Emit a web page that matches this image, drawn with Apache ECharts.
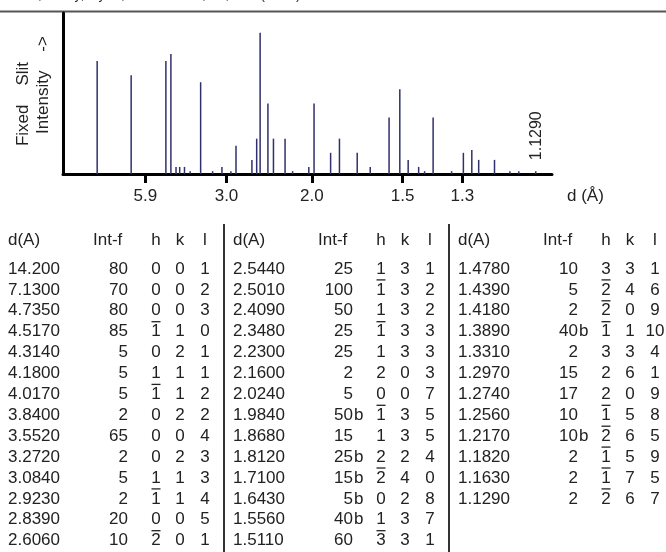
<!DOCTYPE html>
<html>
<head>
<meta charset="utf-8">
<script src="https://cdn.jsdelivr.net/npm/echarts@6/dist/echarts.min.js"></script>
<style>
  html, body { margin: 0; padding: 0; background: #fff; }
  #chart { width: 666px; height: 552px; }
</style>
</head>
<body>
<div id="chart"></div>
<script>
// Powder diffraction card: stick pattern on a 2-theta scale labelled in d, plus the d / I / hkl listing.
const LAMBDA = 1.5406; // Cu K-alpha1, Angstrom

const dSpacing = [
  14.200, 7.1300, 4.7350, 4.5170, 4.3140, 4.1800, 4.0170, 3.8400, 3.5520, 3.2720, 3.0840, 2.9230, 2.8390, 2.6060,
  2.5440, 2.5010, 2.4090, 2.3480, 2.2300, 2.1600, 2.0240, 1.9840, 1.8680, 1.8120, 1.7100, 1.6430, 1.5560, 1.5110,
  1.4780, 1.4390, 1.4180, 1.3890, 1.3310, 1.2970, 1.2740, 1.2560, 1.2170, 1.1820, 1.1630, 1.1290
];
const intensity = [
  80, 70, 80, 85, 5, 5, 5, 2, 65, 2, 5, 2, 20, 10,
  25, 100, 50, 25, 25, 2, 5, 50, 15, 25, 15, 5, 40, 60,
  10, 5, 2, 40, 2, 15, 17, 10, 10, 2, 2, 2
];
const broad = [
  '', '', '', '', '', '', '', '', '', '', '', '', '', '',
  '', '', '', '', '', '', '', 'b', '', 'b', 'b', 'b', 'b', '',
  '', '', '', 'b', '', '', '', '', 'b', '', '', ''
];
const hIdx = [
  0, 0, 0, -1, 0, 1, -1, 0, 0, 0, 1, -1, 0, -2,
  1, -1, 1, -1, 1, 2, 0, -1, 1, 2, -2, 0, 1, -3,
  3, -2, -2, -1, 3, 2, 2, -1, -2, -1, -1, -2
];
const kIdx = [
  0, 0, 0, 1, 2, 1, 1, 2, 0, 2, 1, 1, 0, 0,
  3, 3, 3, 3, 3, 0, 0, 3, 3, 2, 4, 2, 3, 3,
  3, 4, 0, 1, 3, 6, 0, 5, 6, 5, 7, 6
];
const lIdx = [
  1, 2, 3, 0, 1, 1, 2, 2, 4, 3, 3, 4, 5, 1,
  1, 2, 2, 3, 3, 3, 7, 5, 5, 4, 0, 8, 7, 1,
  1, 6, 9, 10, 4, 1, 9, 8, 5, 9, 5, 7
];
const tickD = [5.9, 3.0, 2.0, 1.5, 1.3];
const headers = ['d(A)', 'Int-f', 'h', 'k', 'l'];
const reference = 'Rich, Dalby, Ryan, Econ. Geol., 85, 783 (1990)';

function twoTheta(d) { return 2 * Math.asin(LAMBDA / (2 * d)) * 180 / Math.PI; }
function dFromTwoTheta(t) { return LAMBDA / (2 * Math.sin(t * Math.PI / 360)); }
function fmtD(d) { return d >= 10 ? d.toFixed(3) : d.toFixed(4); }

const FONT = "'Liberation Sans', Arial, sans-serif";
const TEXT = '#222';
const STICK = '#30306f';

const sticks = dSpacing.map((d, i) => [twoTheta(d), intensity[i]]);
const lastIdx = sticks.length - 1;

// ----- listing table (three blocks of 14 rows) -----
const graphics = [];
const ROWS = 14, BLOCK_W = 225, ROW0 = 269, ROW_H = 20.9, HEAD_Y = 240;
const col = { d: 8, intRight: 128, intHead: 93, h: 156, k: 180, l: 205 };
function txt(x, y, s, align) {
  graphics.push({ type: 'text', x: x, y: y, silent: true,
    style: { text: s, fill: TEXT, font: '17px ' + FONT, align: align || 'left', verticalAlign: 'middle' } });
}
for (let b = 0; b < 3; b++) {
  const ox = b * BLOCK_W;
  txt(ox + col.d, HEAD_Y, headers[0]);
  txt(ox + col.intHead, HEAD_Y, headers[1]);
  txt(ox + col.h, HEAD_Y, headers[2], 'center');
  txt(ox + col.k, HEAD_Y, headers[3], 'center');
  txt(ox + col.l, HEAD_Y, headers[4], 'center');
  for (let r = 0; r < ROWS; r++) {
    const i = b * ROWS + r;
    if (i >= dSpacing.length) break;
    const y = ROW0 + r * ROW_H;
    txt(ox + col.d, y, fmtD(dSpacing[i]));
    txt(ox + col.intRight, y, String(intensity[i]), 'right');
    if (broad[i]) txt(ox + col.intRight + 1, y, broad[i]);
    txt(ox + col.h, y, String(Math.abs(hIdx[i])), 'center');
    if (hIdx[i] < 0) {
      // overbar marks a negative Miller index
      graphics.push({ type: 'line', silent: true,
        shape: { x1: ox + col.h - 4.5, y1: y - 10, x2: ox + col.h + 4.5, y2: y - 10 },
        style: { stroke: TEXT, lineWidth: 1.3 } });
    }
    txt(ox + col.k, y, String(kIdx[i]), 'center');
    txt(ox + col.l, y, String(lIdx[i]), 'center');
  }
}
// block dividers
[224, 449].forEach(x => graphics.push({ type: 'line', silent: true,
  shape: { x1: x, y1: 224, x2: x, y2: 552 }, style: { stroke: '#333', lineWidth: 2 } }));
// reference line (mostly above the page edge) and rule at the top
graphics.push({ type: 'text', x: 10, y: 2, silent: true,
  style: { text: reference, fill: '#333', font: '14px ' + FONT, align: 'left', verticalAlign: 'bottom' } });
graphics.push({ type: 'line', silent: true, shape: { x1: 0, y1: 11.5, x2: 666, y2: 11.5 },
  style: { stroke: '#555', lineWidth: 2 } });
// axis titles
graphics.push({ type: 'text', x: 23, y: 104, rotation: Math.PI / 2, silent: true,
  style: { text: 'Fixed    Slit', fill: TEXT, font: '17px ' + FONT, align: 'center', verticalAlign: 'middle' } });
graphics.push({ type: 'text', x: 43, y: 85, rotation: Math.PI / 2, silent: true,
  style: { text: 'Intensity    ->', fill: TEXT, font: '17px ' + FONT, align: 'center', verticalAlign: 'middle' } });
graphics.push({ type: 'text', x: 567, y: 196, silent: true,
  style: { text: 'd (Å)', fill: TEXT, font: '17px ' + FONT, align: 'left', verticalAlign: 'middle' } });

const chart = echarts.init(document.getElementById('chart'), null, { renderer: 'canvas' });
chart.setOption({
  animation: false,
  backgroundColor: '#fff',
  grid: { left: 63, right: 114, top: 13, bottom: 378 },
  xAxis: {
    type: 'value', min: 0, max: 89,
    axisLine: { show: true, lineStyle: { color: '#000', width: 3 } },
    axisTick: { show: true, inside: false, length: 9, customValues: tickD.map(twoTheta),
      lineStyle: { color: '#000', width: 3 } },
    axisLabel: { show: true, customValues: tickD.map(twoTheta), margin: 14,
      color: TEXT, fontSize: 17, fontFamily: FONT,
      formatter: v => dFromTwoTheta(v).toFixed(1) },
    splitLine: { show: false }
  },
  yAxis: {
    type: 'value', min: 0, max: 114,
    axisLine: { show: true, lineStyle: { color: '#000', width: 3 } },
    axisTick: { show: false }, axisLabel: { show: false }, splitLine: { show: false }
  },
  series: [{
    type: 'custom',
    data: sticks,
    clip: false,
    z: 1,
    renderItem: function (params, api) {
      const x = api.value(0), y = api.value(1);
      const p0 = api.coord([x, 0]);
      const p1 = api.coord([x, y]);
      const children = [{ type: 'line',
        shape: { x1: p0[0], y1: p0[1], x2: p1[0], y2: p1[1] },
        style: { stroke: STICK, lineWidth: 1.5 } }];
      if (params.dataIndex === lastIdx) {
        children.push({ type: 'text', x: p1[0] + 1, y: p1[1] - 11, rotation: Math.PI / 2,
          style: { text: fmtD(dSpacing[lastIdx]), fill: TEXT, font: '16px ' + FONT,
            align: 'left', verticalAlign: 'middle' } });
      }
      return { type: 'group', children: children };
    }
  }],
  graphic: graphics
});
</script>
</body>
</html>
